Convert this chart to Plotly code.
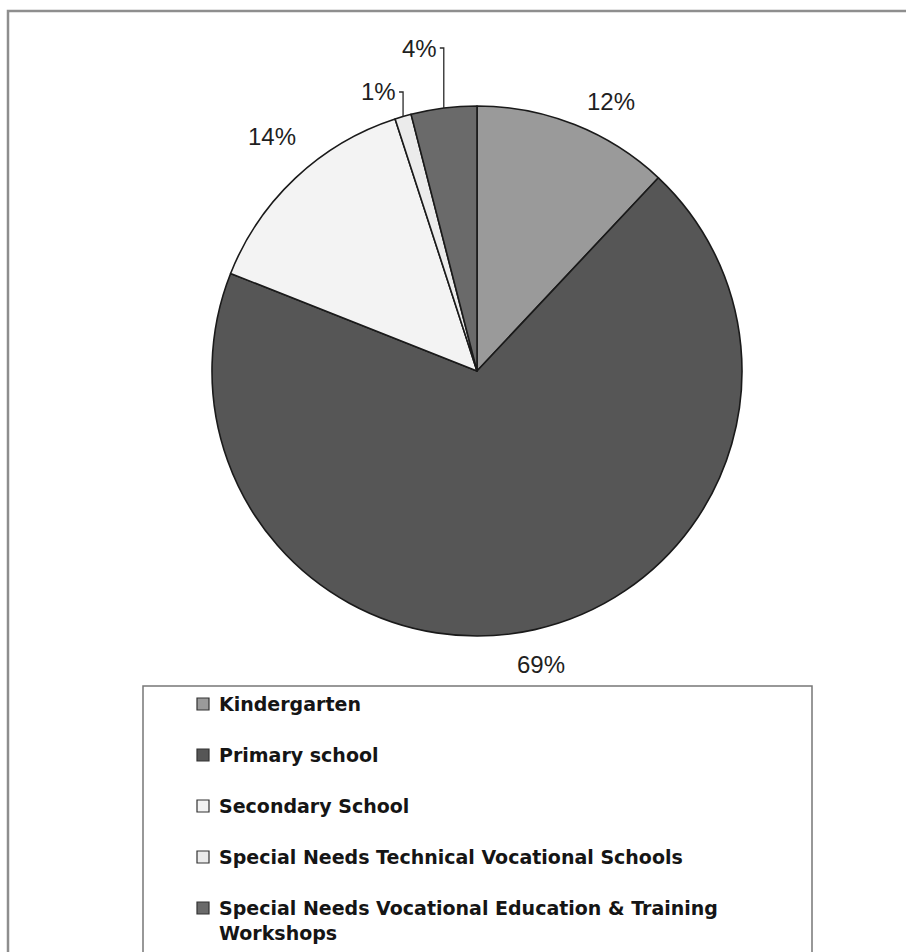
import math
import textwrap
import plotly.graph_objects as go

# ---- data -----------------------------------------------------------------
categories = [
    "Kindergarten",
    "Primary school",
    "Secondary School",
    "Special Needs Technical Vocational Schools",
    "Special Needs Vocational Education & Training Workshops",
]
shares = [12, 69, 14, 1, 4]  # percent of total

# ---- styling / layout -----------------------------------------------------
slice_colors = ["#9a9a9a", "#565656", "#f3f3f3", "#ebebeb", "#6a6a6a"]
W, H = 906, 952
CX, CY, R = 477, 371, 265  # pie centre and radius in pixels

# label anchor positions (pixels) and whether a leader line is used
label_pos = [(611, 102), (541, 664), (272, 137), (381, 92), (439, 48)]
uses_leader = [False, False, False, True, True]

LEGEND_TOP = 704
LEGEND_STEP = 51
LABEL_FONT = dict(family="Liberation Sans, Arial", size=24, color="#1f1f1f")


def px(x):
    return x / W


def py(y):
    return 1 - y / H


fig = go.Figure(
    go.Pie(
        labels=categories,
        values=shares,
        sort=False,
        direction="clockwise",
        rotation=0,
        marker=dict(colors=slice_colors, line=dict(color="#1a1a1a", width=1.6)),
        textinfo="none",
        hoverinfo="label+percent",
        showlegend=False,
        domain=dict(x=[px(CX - R), px(CX + R)], y=[py(CY + R), py(CY - R)]),
    )
)

shapes = []
annotations = []

# outer chart frame and legend frame
shapes.append(dict(type="rect", xref="paper", yref="paper",
                   x0=px(8), x1=px(930), y0=py(11), y1=py(965),
                   line=dict(color="#8e8e8e", width=2.5), layer="below"))
shapes.append(dict(type="rect", xref="paper", yref="paper",
                   x0=px(143), x1=px(812), y0=py(686), y1=py(970),
                   line=dict(color="#777777", width=1.5), layer="below"))

# percentage labels (with leader lines for the thin slices)
total = sum(shares)
cum = 0.0
for v, (lx, ly), lead in zip(shares, label_pos, uses_leader):
    mid = (cum + v / 2) / total
    cum += v
    theta = 2 * math.pi * mid
    ex = CX + R * math.sin(theta)
    ey = CY - R * math.cos(theta)
    txt = f"{v}%"
    if lead:
        annotations.append(dict(x=px(ex - 5), y=py(ly), xref="paper", yref="paper",
                                text=txt, showarrow=False, xanchor="right", yanchor="middle",
                                font=LABEL_FONT))
        path = f"M {px(ex - 4)},{py(ly)} L {px(ex)},{py(ly)} L {px(ex)},{py(ey)}"
        shapes.append(dict(type="path", xref="paper", yref="paper", path=path,
                           line=dict(color="#2a2a2a", width=1.3)))
    else:
        annotations.append(dict(x=px(lx), y=py(ly), xref="paper", yref="paper",
                                text=txt, showarrow=False, xanchor="center", yanchor="middle",
                                font=LABEL_FONT))

# legend: swatch + category name, one row per slice
for i, (name, col) in enumerate(zip(categories, slice_colors)):
    yc = LEGEND_TOP + LEGEND_STEP * i
    shapes.append(dict(type="rect", xref="paper", yref="paper",
                       x0=px(197), x1=px(209), y0=py(yc - 6), y1=py(yc + 6),
                       fillcolor=col, line=dict(color="#333333", width=1.2)))
    wrapped = "<br>".join(textwrap.wrap(name, 46))
    annotations.append(dict(x=px(217), y=py(yc - 13), xref="paper", yref="paper",
                            text=wrapped, showarrow=False, xanchor="left", yanchor="top",
                            align="left",
                            font=dict(family="DejaVu Sans", size=19, color="#151515",
                                      weight="bold")))

fig.update_layout(
    width=W,
    height=H,
    margin=dict(l=0, r=0, t=0, b=0),
    paper_bgcolor="white",
    plot_bgcolor="white",
    shapes=shapes,
    annotations=annotations,
    showlegend=False,
)

fig.write_html("out.html", config={"displayModeBar": False})
